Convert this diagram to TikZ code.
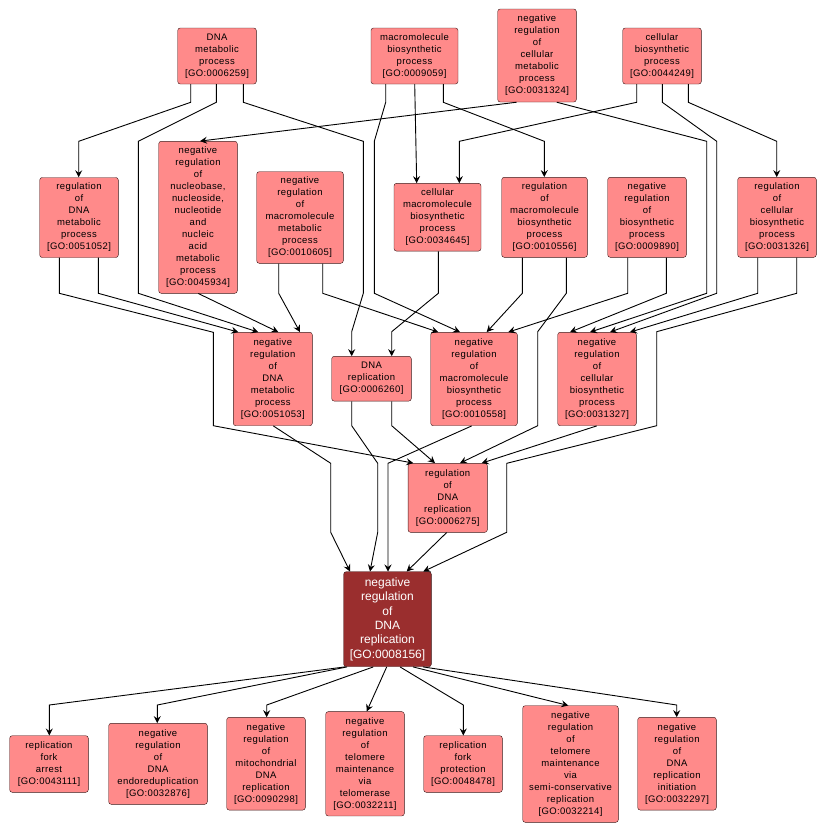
\documentclass[tikz,border=0pt]{standalone}
\usepackage{fontspec}
\setmainfont{Liberation Sans}
\newfontfamily\termfont{Liberation Sans}[LetterSpace=4]
\usetikzlibrary{arrows.meta}

\newcommand\goid[1]{[GO:#1]}

\tikzset{
  term/.style={draw=termline, fill=termfill, rounded corners=2.5pt, align=center,
    inner sep=0pt, font=\termfont\fontsize{9.5}{12}\selectfont},
  focus/.style={term, fill=focusfill, text=white, minimum width=87.6pt, minimum height=95pt,
    font=\fontsize{12}{14.3}\selectfont},
  edge/.style={line width=0.9pt, -{Stealth[length=7pt,width=7pt,inset=2.5pt]}}
}

\begin{document}
\begin{tikzpicture}[x=1pt, y=-1pt]
    % Cores
    \definecolor{termfill}{HTML}{FF8A8A}
    \definecolor{focusfill}{HTML}{9A2E2E}
    \definecolor{termline}{HTML}{3A1A1A}

    \useasboundingbox (0,0) rectangle (827,833);

    % Termos: {id/x/y/largura/altura/texto}
    \foreach \id/\x/\y/\w/\h/\txt in {
        6259/217/56/78.6/56/{DNA\\metabolic\\process\\\goid{0006259}},
        9059/414.5/56/87/56/{macromolecule\\biosynthetic\\process\\\goid{0009059}},
        31324/537/55.5/78.6/93/{negative\\regulation\\of\\cellular\\metabolic\\process\\\goid{0031324}},
        44249/662/56/78.6/56/{cellular\\biosynthetic\\process\\\goid{0044249}},
        51052/79/217.5/78.6/80/{regulation\\of\\DNA\\metabolic\\process\\\goid{0051052}},
        45934/198/217.3/78.6/152/{negative\\regulation\\of\\nucleobase,\\nucleoside,\\nucleotide\\and\\nucleic\\acid\\metabolic\\process\\\goid{0045934}},
        10605/300/217.5/86.6/91.6/{negative\\regulation\\of\\macromolecule\\metabolic\\process\\\goid{0010605}},
        34645/437.5/217.2/87/67.7/{cellular\\macromolecule\\biosynthetic\\process\\\goid{0034645}},
        10556/544.5/217.3/85.6/80/{regulation\\of\\macromolecule\\biosynthetic\\process\\\goid{0010556}},
        9890/647/217.3/78.6/80/{negative\\regulation\\of\\biosynthetic\\process\\\goid{0009890}},
        31326/777/217.3/78.6/80/{regulation\\of\\cellular\\biosynthetic\\process\\\goid{0031326}},
        51053/272.8/379/79/93.4/{negative\\regulation\\of\\DNA\\metabolic\\process\\\goid{0051053}},
        6260/371.5/378.7/79.6/44.7/{DNA\\replication\\\goid{0006260}},
        10558/474/379/86.6/93.4/{negative\\regulation\\of\\macromolecule\\biosynthetic\\process\\\goid{0010558}},
        31327/597/379/78.6/93.4/{negative\\regulation\\of\\cellular\\biosynthetic\\process\\\goid{0031327}},
        6275/447.7/497.8/79.3/69/{regulation\\of\\DNA\\replication\\\goid{0006275}},
        43111/49/764/78.6/56.6/{replication\\fork\\arrest\\\goid{0043111}},
        32876/158/763.8/98.6/81/{negative\\regulation\\of\\DNA\\endoreduplication\\\goid{0032876}},
        90298/266/763.7/78.6/92.7/{negative\\regulation\\of\\mitochondrial\\DNA\\replication\\\goid{0090298}},
        32211/365/763.8/78.6/104.3/{negative\\regulation\\of\\telomere\\maintenance\\via\\telomerase\\\goid{0032211}},
        48478/463/764/78.6/56.6/{replication\\fork\\protection\\\goid{0048478}},
        32214/570.5/764/95.6/116.6/{negative\\regulation\\of\\telomere\\maintenance\\via\\semi-conservative\\replication\\\goid{0032214}},
        32297/677/763.7/78.6/92.7/{negative\\regulation\\of\\DNA\\replication\\initiation\\\goid{0032297}}} {
        \node[term, minimum width=\w pt, minimum height=\h pt] (n\id) at (\x,\y) {\txt};
    }

    % Termo em foco
    \node[focus] (n8156) at (387.5,619.2) {negative\\regulation\\of\\DNA\\replication\\\goid{0008156}};

    % Ligacoes de cima
    \draw[edge] (n6259.south -| 190.7,0) -- (190.7,102.3) -- (78.7,141.3) -- (n51052.north -| 78.7,0);
    \draw[edge] (n6259.south -| 216.3,0) -- (216.3,102.3) -- (138.3,141.3) -- (138.3,293.3) -- (n51053.north -| 258.3,0);
    \draw[edge] (n6259.south -| 243.3,0) -- (243.3,102.3) -- (363.3,141.3) -- (363.3,293.3) -- (351.7,331.7) -- (n6260.north -| 351.7,0);
    \draw[edge] (n9059.south -| 385.7,0) -- (385.7,102.3) -- (374.3,141.3) -- (374.3,293.3) -- (n10558.north -| 460,0);
    \draw[edge] (n9059.south -| 414.7,0) -- (n34645.north -| 416.7,0);
    \draw[edge] (n9059.south -| 443.3,0) -- (443.3,102.3) -- (544.3,141.3) -- (n10556.north -| 544.3,0);
    \draw[edge] (n31324.south -| 516.7,0) -- (n45934.north -| 200,0);
    \draw[edge] (n31324.south -| 556.7,0) -- (706.7,141.3) -- (706.7,293.3) -- (n31327.north -| 590,0);
    \draw[edge] (n44249.south -| 636.7,0) -- (636.7,102.3) -- (459.3,141.3) -- (n34645.north -| 459.3,0);
    \draw[edge] (n44249.south -| 662.3,0) -- (662.3,102.3) -- (716.7,141.3) -- (716.7,293.3) -- (n31327.north -| 610,0);
    \draw[edge] (n44249.south -| 688.3,0) -- (688.3,102.3) -- (776.7,141.3) -- (n31326.north -| 776.7,0);

    % Ligacoes do meio
    \draw[edge] (n51052.south -| 59.3,0) -- (59.3,293.3) -- (213.3,332.3) -- (213.3,425.7) -- (n6275.north -| 413.3,0);
    \draw[edge] (n51052.south -| 98.3,0) -- (98.3,293.3) -- (n51053.north -| 238.3,0);
    \draw[edge] (n45934.south -| 198.3,0) -- (n51053.north -| 278.3,0);
    \draw[edge] (n10605.south -| 278.7,0) -- (278.7,293.3) -- (n51053.north -| 300,0);
    \draw[edge] (n10605.south -| 322.7,0) -- (322.7,293.3) -- (n10558.north -| 438.3,0);
    \draw[edge] (n34645.south -| 438.3,0) -- (438.3,293.3) -- (391.7,331.7) -- (n6260.north -| 391.7,0);
    \draw[edge] (n10556.south -| 522.3,0) -- (522.3,293.3) -- (n10558.north -| 486.7,0);
    \draw[edge] (n10556.south -| 566.3,0) -- (566.3,293.3) -- (537.7,331.7) -- (537.7,425.7) -- (n6275.north -| 460,0);
    \draw[edge] (n9890.south -| 627.7,0) -- (627.7,293.3) -- (n10558.north -| 508.3,0);
    \draw[edge] (n9890.south -| 666.3,0) -- (666.3,293.3) -- (n31327.north -| 570,0);
    \draw[edge] (n31326.south -| 757.7,0) -- (757.7,293.3) -- (n31327.north -| 630,0);
    \draw[edge] (n31326.south -| 796.7,0) -- (796.7,293.3) -- (656.7,331.7) -- (656.7,425.7) -- (506.7,463.3) -- (506.7,532.3) -- (n8156.north -| 423.3,0);

    % Ligacoes para o termo em foco
    \draw[edge] (n51053.south -| 273.3,0) -- (330.7,463.3) -- (330.7,532.3) -- (n8156.north -| 350,0);
    \draw[edge] (n6260.south -| 351.7,0) -- (351.7,425.7) -- (377.7,463.3) -- (377.7,532.3) -- (n8156.north -| 370,0);
    \draw[edge] (n6260.south -| 391.7,0) -- (391.7,425.7) -- (n6275.north -| 435,0);
    \draw[edge] (n10558.south -| 471.7,0) -- (388,463.3) -- (388,532.3) -- (n8156.north -| 388,0);
    \draw[edge] (n31327.south -| 596.7,0) -- (n6275.north -| 481.7,0);
    \draw[edge] (n6275.south -| 446.7,0) -- (n8156.north -| 406.7,0);

    % Filhos
    \draw[edge] (n8156.south -| 345,0) -- (49.3,705) -- (n43111.north -| 49.3,0);
    \draw[edge] (n8156.south -| 347,0) -- (157.3,705) -- (n32876.north -| 157.3,0);
    \draw[edge] (n8156.south -| 373.3,0) -- (266.7,705) -- (n90298.north -| 266.7,0);
    \draw[edge] (n8156.south -| 386.7,0) -- (n32211.north -| 366.7,0);
    \draw[edge] (n8156.south -| 400,0) -- (463.3,705) -- (n48478.north -| 463.3,0);
    \draw[edge] (n8156.south -| 413,0) -- (n32214.north -| 568.3,0);
    \draw[edge] (n8156.south -| 423,0) -- (676.7,705) -- (n32297.north -| 676.7,0);
\end{tikzpicture}
\end{document}
